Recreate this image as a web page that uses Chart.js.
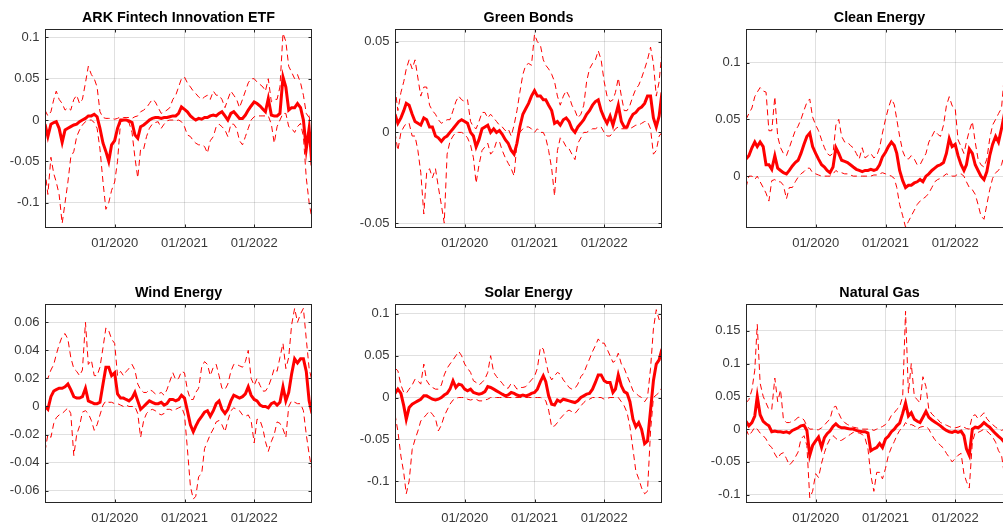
<!DOCTYPE html>
<html><head><meta charset="utf-8">
<script src="https://cdn.jsdelivr.net/npm/chart.js@4.4.1/dist/chart.umd.min.js"></script>
<style>
html,body{margin:0;padding:0;background:#fff;overflow:hidden;width:1003px;height:527px;position:relative;}
canvas{position:absolute;}
</style></head><body>
<canvas id="c0" width="320" height="258" style="left:0px;top:0px"></canvas>
<canvas id="c1" width="320" height="258" style="left:350px;top:0px"></canvas>
<canvas id="c2" width="320" height="258" style="left:701px;top:0px"></canvas>
<canvas id="c3" width="320" height="258" style="left:0px;top:275px"></canvas>
<canvas id="c4" width="320" height="258" style="left:350px;top:275px"></canvas>
<canvas id="c5" width="320" height="258" style="left:701px;top:275px"></canvas>
<script>
// ---- time axis (semi-monthly samples) ----
const dates = ("2019-01-01 2019-01-16 2019-02-01 2019-02-16 2019-03-01 2019-03-16 2019-04-01 2019-04-16 2019-05-01 2019-05-16 2019-06-01 2019-06-16 " +
"2019-07-01 2019-07-16 2019-08-01 2019-08-16 2019-09-01 2019-09-16 2019-10-01 2019-10-16 2019-11-01 2019-11-16 2019-12-01 2019-12-16 " +
"2020-01-01 2020-01-16 2020-02-01 2020-02-16 2020-03-01 2020-03-16 2020-04-01 2020-04-16 2020-05-01 2020-05-16 2020-06-01 2020-06-16 " +
"2020-07-01 2020-07-16 2020-08-01 2020-08-16 2020-09-01 2020-09-16 2020-10-01 2020-10-16 2020-11-01 2020-11-16 2020-12-01 2020-12-16 " +
"2021-01-01 2021-01-16 2021-02-01 2021-02-16 2021-03-01 2021-03-16 2021-04-01 2021-04-16 2021-05-01 2021-05-16 2021-06-01 2021-06-16 " +
"2021-07-01 2021-07-16 2021-08-01 2021-08-16 2021-09-01 2021-09-16 2021-10-01 2021-10-16 2021-11-01 2021-11-16 2021-12-01 2021-12-16 " +
"2022-01-01 2022-01-16 2022-02-01 2022-02-16 2022-03-01 2022-03-16 2022-04-01 2022-04-16 2022-05-01 2022-05-16 2022-06-01 2022-06-16 " +
"2022-07-01 2022-07-16 2022-08-01 2022-08-16 2022-09-01 2022-09-16 2022-10-01 2022-10-16 2022-10-31").split(" ");
const xStart = "2019-01-01", xEnd = "2022-10-31";
const xTicks = ["2020-01-01", "2021-01-01", "2022-01-01"];
const xTickLabels = ["01/2020", "01/2021", "01/2022"];

// ---- ARK Fintech Innovation ETF ----
const arkUpper = [0.012,0.005,0.01,0.025,0.035,0.025,0.02,0.012,0.015,0.012,
0.025,0.03,0.02,0.025,0.045,0.065,0.055,0.05,0.04,0.01,
0.003,0.002,0.002,0.002,0.001,0.002,0.004,0.003,0.003,0.003,
0.002,0.004,0.005,0.01,0.012,0.015,0.02,0.025,0.022,0.015,
0.008,0.01,0.012,0.015,0.025,0.03,0.04,0.05,0.052,0.045,
0.04,0.035,0.032,0.028,0.025,0.028,0.03,0.025,0.035,0.03,
0.03,0.025,0.015,0.025,0.035,0.03,0.025,0.015,0.025,0.035,
0.045,0.05,0.05,0.046,0.043,0.04,0.035,0.05,0.022,0.025,
0.025,0.04,0.105,0.095,0.065,0.058,0.05,0.055,0.045,0.03,
0.008,0.003,0.001];
const arkMid = [-0.005,-0.02,-0.005,-0.003,-0.002,-0.01,-0.027,-0.012,-0.01,-0.008,
-0.006,-0.005,-0.002,0.0,0.002,0.005,0.005,0.007,0.004,-0.01,
-0.028,-0.038,-0.05,-0.03,-0.025,-0.01,0.0,0.0,0.0,-0.001,
-0.003,-0.018,-0.022,-0.008,-0.006,-0.003,0.0,0.002,0.003,0.003,
0.002,0.003,0.003,0.004,0.005,0.005,0.008,0.016,0.013,0.01,
0.005,0.002,0.0,0.002,0.001,0.003,0.003,0.005,0.006,0.005,
0.008,0.01,0.005,0.0,0.008,0.01,0.006,0.002,0.002,0.006,
0.012,0.017,0.022,0.02,0.017,0.013,0.01,0.026,0.006,0.005,
0.005,0.008,0.052,0.04,0.012,0.015,0.015,0.02,0.015,0.0,
-0.035,-0.01,-0.055];
const arkLower = [-0.06,-0.09,-0.045,-0.065,-0.075,-0.09,-0.125,-0.1,-0.075,-0.045,
-0.038,-0.02,-0.012,-0.006,-0.002,0.0,0.0,-0.003,-0.01,-0.035,
-0.075,-0.108,-0.1,-0.085,-0.075,-0.05,-0.002,-0.001,-0.002,-0.003,
-0.015,-0.045,-0.07,-0.035,-0.035,-0.02,-0.01,-0.005,-0.003,-0.002,
-0.01,-0.005,-0.001,0.0,0.0,-0.001,0.0,-0.002,-0.008,-0.018,
-0.02,-0.025,-0.028,-0.03,-0.03,-0.032,-0.04,-0.025,-0.02,-0.008,
-0.005,-0.008,-0.012,-0.02,-0.005,-0.005,-0.01,-0.025,-0.03,-0.02,
-0.01,0.0,0.004,0.005,0.005,0.005,0.005,0.005,-0.005,-0.028,
-0.008,0.0,0.008,0.008,-0.008,-0.01,-0.015,-0.008,-0.004,-0.02,
-0.07,-0.1,-0.12];
const arkYTicks = [-0.1, -0.05, 0, 0.05, 0.1];
const arkYLabels = ["-0.1", "-0.05", "0", "0.05", "0.1"];
const arkYRange = [-0.1306, 0.1097];

// ---- Green Bonds ----
const gbUpper = [0.025,0.012,0.022,0.028,0.035,0.04,0.035,0.04,0.03,0.02,
0.025,0.025,0.015,0.012,0.01,0.007,0.005,0.006,0.007,0.007,
0.012,0.017,0.02,0.018,0.017,0.018,0.006,0.003,0.002,0.006,
0.011,0.011,0.008,0.01,0.008,0.006,0.004,0.003,0.001,0.002,
-0.002,0.004,0.012,0.022,0.032,0.037,0.038,0.037,0.054,0.05,
0.048,0.04,0.037,0.035,0.032,0.028,0.02,0.015,0.02,0.023,
0.02,0.015,0.012,0.008,0.01,0.015,0.028,0.035,0.038,0.04,
0.045,0.04,0.028,0.02,0.017,0.018,0.022,0.03,0.02,0.012,
0.012,0.015,0.02,0.024,0.026,0.03,0.035,0.04,0.047,0.038,
0.02,0.028,0.045];
const gbMid = [0.01,0.005,0.008,0.012,0.016,0.015,0.01,0.006,0.005,0.004,
0.008,0.007,0.003,0.003,-0.002,-0.003,-0.005,-0.003,-0.002,0.0,
0.002,0.004,0.006,0.007,0.006,0.005,0.0,-0.002,-0.008,-0.004,
0.002,0.003,0.004,0.0,0.002,0.0,0.001,-0.001,-0.004,-0.006,
-0.01,-0.012,-0.006,0.003,0.01,0.013,0.016,0.02,0.023,0.02,
0.02,0.018,0.018,0.015,0.012,0.005,0.006,0.004,0.007,0.008,
0.006,0.002,0.0,0.003,0.005,0.007,0.01,0.012,0.015,0.017,
0.018,0.012,0.008,0.005,0.009,0.004,0.009,0.015,0.006,0.003,
0.003,0.007,0.01,0.011,0.013,0.014,0.016,0.02,0.02,0.008,
0.003,0.009,0.022];
const gbLower = [0.0,-0.01,0.0,0.003,0.005,0.005,-0.002,-0.002,-0.01,-0.022,
-0.045,-0.022,-0.02,-0.025,-0.02,-0.03,-0.04,-0.05,-0.012,-0.005,
-0.002,0.0,0.0,0.0,-0.001,-0.003,-0.007,-0.014,-0.028,-0.018,
-0.01,-0.008,-0.006,-0.012,-0.01,-0.005,-0.005,-0.01,-0.014,-0.017,
-0.02,-0.024,-0.006,0.0,0.002,0.003,0.003,0.002,0.0,0.002,
0.0,0.0,-0.003,-0.01,-0.02,-0.035,-0.01,-0.003,-0.005,-0.008,
-0.009,-0.012,-0.015,-0.006,-0.003,0.0,0.0,0.001,0.002,0.002,
0.003,0.003,0.0,-0.002,-0.002,0.0,0.002,0.003,0.002,0.002,
0.002,0.002,0.003,0.004,0.004,0.005,0.006,0.006,0.002,-0.012,
-0.01,-0.002,0.0];
const gbYTicks = [-0.05, 0, 0.05];
const gbYLabels = ["-0.05", "0", "0.05"];
const gbYRange = [-0.0527, 0.0568];

// ---- Clean Energy ----
const ceUpper = [0.05,0.055,0.06,0.07,0.074,0.078,0.075,0.074,0.04,0.04,
0.07,0.035,0.025,0.02,0.018,0.025,0.033,0.04,0.044,0.05,
0.058,0.065,0.068,0.052,0.045,0.04,0.032,0.025,0.02,0.018,
0.02,0.045,0.05,0.035,0.03,0.03,0.027,0.025,0.02,0.015,
0.025,0.016,0.018,0.02,0.016,0.018,0.025,0.038,0.05,0.06,
0.068,0.063,0.05,0.035,0.022,0.016,0.015,0.018,0.015,0.01,
0.01,0.015,0.02,0.03,0.035,0.04,0.037,0.035,0.045,0.062,
0.07,0.062,0.06,0.032,0.026,0.02,0.03,0.04,0.048,0.03,
0.015,0.01,0.008,0.015,0.033,0.045,0.05,0.055,0.06,0.09,
0.11,0.125,0.12];
const ceMid = [0.015,0.018,0.025,0.03,0.026,0.03,0.026,0.01,0.01,0.006,
0.018,0.007,0.005,0.003,0.002,0.005,0.009,0.012,0.014,0.02,
0.028,0.035,0.038,0.026,0.02,0.015,0.01,0.008,0.005,0.003,
0.008,0.025,0.02,0.014,0.013,0.012,0.01,0.008,0.006,0.005,
0.004,0.005,0.005,0.006,0.005,0.006,0.01,0.017,0.021,0.026,
0.03,0.027,0.02,0.005,-0.004,-0.01,-0.008,-0.008,-0.006,-0.005,
-0.003,-0.005,0.0,0.002,0.005,0.007,0.009,0.01,0.012,0.02,
0.033,0.026,0.028,0.018,0.01,0.005,0.01,0.024,0.02,0.01,
0.005,0.0,-0.003,0.004,0.018,0.028,0.035,0.03,0.042,0.055,
0.06,0.065,0.065];
const ceLower = [-0.01,0.0,0.0,-0.003,0.0,-0.005,-0.01,-0.015,-0.022,-0.004,
-0.003,-0.005,-0.005,-0.008,-0.02,-0.01,-0.01,-0.005,-0.001,0.002,
0.004,0.007,0.007,0.003,0.002,0.001,0.0,0.0,0.0,0.0,
0.002,0.005,0.003,0.003,0.002,0.002,0.001,0.0,0.0,0.0,
0.0,0.0,0.0,0.0,0.001,0.001,0.002,0.003,0.002,0.001,
0.0,-0.002,-0.01,-0.025,-0.035,-0.045,-0.04,-0.035,-0.03,-0.025,
-0.022,-0.02,-0.018,-0.015,-0.01,-0.005,-0.003,-0.002,0.0,0.002,
0.001,0.0,0.0,0.002,0.002,0.0,-0.005,-0.01,-0.012,-0.016,
-0.025,-0.035,-0.038,-0.025,-0.012,-0.002,0.003,0.005,0.01,0.02,
0.025,0.025,0.025];
const ceYTicks = [0, 0.05, 0.1];
const ceYLabels = ["0", "0.05", "0.1"];
const ceYRange = [-0.0457, 0.1293];

// ---- Wind Energy ----
const weUpper = [0.02,0.02,0.026,0.03,0.037,0.044,0.05,0.052,0.048,0.035,
0.027,0.025,0.022,0.026,0.06,0.03,0.033,0.022,0.022,0.028,
0.042,0.056,0.054,0.048,0.045,0.022,0.025,0.022,0.025,0.027,
0.03,0.026,0.016,0.012,0.01,0.01,0.012,0.011,0.009,0.009,
0.01,0.008,0.012,0.018,0.024,0.019,0.02,0.025,0.024,0.012,
0.005,0.005,0.01,0.013,0.028,0.032,0.03,0.022,0.028,0.03,
0.022,0.013,0.012,0.016,0.025,0.03,0.03,0.029,0.028,0.032,
0.04,0.02,0.015,0.02,0.015,0.011,0.011,0.014,0.02,0.027,
0.025,0.035,0.045,0.027,0.035,0.058,0.07,0.06,0.066,0.07,
0.048,0.027,0.018];
const weMid = [0.0,-0.002,0.007,0.011,0.012,0.013,0.013,0.014,0.016,0.012,
0.007,0.006,0.006,0.007,0.013,0.004,0.003,0.002,0.002,0.003,
0.016,0.028,0.028,0.022,0.024,0.009,0.006,0.006,0.005,0.004,
0.006,0.01,0.004,-0.002,0.0,0.002,0.004,0.003,0.002,0.002,
0.003,0.001,0.002,0.005,0.005,0.004,0.005,0.008,0.006,-0.003,
-0.013,-0.018,-0.014,-0.01,-0.007,-0.004,-0.003,-0.007,-0.003,0.002,
0.004,-0.002,-0.005,-0.002,0.004,0.008,0.007,0.006,0.007,0.009,
0.014,0.008,0.005,0.004,0.001,0.0,0.0,-0.001,0.002,0.003,
0.001,0.003,0.014,0.004,0.01,0.023,0.034,0.031,0.034,0.034,
0.025,0.004,-0.005];
const weLower = [-0.032,-0.02,-0.022,-0.012,-0.008,-0.006,-0.005,-0.003,-0.001,-0.005,
-0.035,-0.02,-0.014,-0.004,-0.003,-0.005,-0.01,-0.017,-0.013,-0.006,
0.001,0.004,0.003,0.003,0.002,0.002,0.001,0.0,0.001,0.0,
0.0,0.0,-0.005,-0.022,-0.01,-0.005,-0.003,-0.002,-0.003,-0.005,
-0.006,-0.005,-0.002,-0.002,-0.003,-0.002,-0.001,0.0,-0.006,-0.03,
-0.057,-0.066,-0.064,-0.05,-0.048,-0.03,-0.025,-0.02,-0.016,-0.011,
-0.01,-0.013,-0.018,-0.01,-0.003,-0.001,-0.002,-0.003,-0.006,-0.007,
-0.006,-0.01,-0.026,-0.009,-0.01,-0.016,-0.025,-0.032,-0.025,-0.02,
-0.011,-0.012,-0.016,-0.022,0.0,0.004,0.003,0.002,0.002,-0.003,
-0.02,-0.034,-0.046];
const weYTicks = [-0.06, -0.04, -0.02, 0, 0.02, 0.04, 0.06];
const weYLabels = ["-0.06", "-0.04", "-0.02", "0", "0.02", "0.04", "0.06"];
const weYRange = [-0.0688, 0.0728];

// ---- Solar Energy ----
const seUpper = [0.035,0.032,0.015,0.006,0.005,0.01,0.015,0.022,0.02,0.016,
0.04,0.02,0.015,0.012,0.01,0.01,0.015,0.027,0.035,0.04,
0.045,0.05,0.055,0.05,0.04,0.035,0.03,0.02,0.018,0.015,
0.018,0.022,0.03,0.05,0.03,0.025,0.021,0.017,0.012,0.011,
0.017,0.015,0.01,0.012,0.012,0.013,0.017,0.021,0.025,0.035,
0.06,0.058,0.044,0.028,0.021,0.026,0.03,0.028,0.021,0.017,
0.012,0.01,0.011,0.016,0.025,0.029,0.038,0.046,0.055,0.062,
0.07,0.065,0.065,0.058,0.05,0.042,0.044,0.053,0.04,0.035,
0.026,0.018,0.008,0.005,0.002,0.0,-0.005,0.0,0.035,0.082,
0.105,0.093,0.097];
const seMid = [0.005,0.01,0.005,-0.01,-0.026,-0.012,-0.008,-0.006,-0.004,-0.002,
0.002,0.002,0.0,-0.002,-0.003,-0.002,0.0,0.003,0.005,0.01,
0.02,0.012,0.016,0.015,0.01,0.008,0.01,0.006,0.005,0.004,
0.005,0.007,0.013,0.012,0.01,0.008,0.006,0.004,0.002,0.003,
0.006,0.005,0.003,0.002,0.003,0.002,0.003,0.005,0.006,0.01,
0.019,0.026,0.019,0.002,-0.008,-0.009,-0.003,-0.005,-0.002,-0.003,
-0.004,-0.005,-0.006,-0.004,0.0,0.002,0.004,0.005,0.01,0.018,
0.027,0.027,0.02,0.018,0.018,0.006,0.01,0.027,0.014,0.007,
0.005,-0.005,-0.026,-0.035,-0.03,-0.038,-0.055,-0.052,-0.015,0.02,
0.04,0.045,0.058];
const seLower = [-0.02,-0.04,-0.07,-0.09,-0.115,-0.1,-0.062,-0.05,-0.04,-0.028,
-0.024,-0.02,-0.016,-0.02,-0.025,-0.04,-0.033,-0.022,-0.015,-0.008,
-0.003,-0.001,0.0,0.0,0.0,-0.002,-0.003,-0.002,-0.002,-0.004,
-0.004,-0.003,-0.002,0.0,0.0,0.0,0.0,0.0,0.0,0.0,
0.0,0.0,0.0,0.0,0.0,0.0,0.0,0.0,0.0,0.0,
0.0,-0.001,-0.004,-0.015,-0.035,-0.034,-0.03,-0.025,-0.021,-0.017,
-0.015,-0.017,-0.019,-0.015,-0.01,-0.006,-0.003,-0.002,0.0,0.0,
0.0,0.0,-0.002,-0.001,0.0,0.0,0.0,0.0,-0.005,-0.01,
-0.018,-0.035,-0.062,-0.088,-0.097,-0.108,-0.115,-0.112,-0.04,0.0,
0.003,0.006,0.012];
const seYTicks = [-0.1, -0.05, 0, 0.05, 0.1];
const seYLabels = ["-0.1", "-0.05", "0", "0.05", "0.1"];
const seYRange = [-0.126, 0.1113];

// ---- Natural Gas ----
const ngUpper = [0.04,0.045,0.06,0.09,0.16,0.07,0.05,0.04,0.03,0.03,
0.078,0.042,0.06,0.015,0.01,0.01,0.012,0.014,0.018,0.018,
0.014,0.005,0.0,0.0,-0.001,-0.001,0.002,0.006,0.011,0.015,
0.033,0.035,0.024,0.015,0.01,0.007,0.005,0.003,0.002,0.001,
0.0,0.0,0.0,0.0,-0.002,0.0,0.002,0.004,0.007,0.012,
0.021,0.025,0.03,0.034,0.05,0.18,0.055,0.1,0.05,0.045,
0.04,0.08,0.065,0.03,0.023,0.019,0.015,0.01,0.008,0.006,
0.004,0.002,0.002,0.003,0.005,0.003,0.001,0.0,0.02,0.022,
0.016,0.02,0.025,0.016,0.011,0.007,0.003,0.0,-0.002,0.0,
0.0,0.0,0.0];
const ngMid = [0.012,0.005,0.01,0.02,0.05,0.022,0.012,0.008,0.005,-0.004,
-0.003,-0.004,-0.004,-0.005,-0.004,-0.006,-0.002,0.0,0.002,0.005,
0.006,-0.002,-0.04,-0.025,-0.018,-0.012,-0.028,-0.013,-0.007,-0.003,
0.004,0.008,0.004,0.002,0.002,0.001,0.0,0.0,-0.002,-0.003,
-0.004,-0.004,-0.006,-0.033,-0.03,-0.028,-0.022,-0.028,-0.015,-0.011,
-0.004,0.0,0.005,0.009,0.024,0.04,0.02,0.025,0.015,0.012,
0.01,0.018,0.027,0.018,0.014,0.011,0.008,0.005,0.001,-0.002,
-0.004,-0.005,-0.003,-0.005,-0.003,-0.01,-0.03,-0.04,0.0,0.003,
0.002,0.005,0.01,0.006,0.003,-0.002,-0.007,-0.011,-0.015,-0.02,
-0.022,-0.02,-0.02];
const ngLower = [0.0,-0.01,-0.004,0.003,0.0,-0.006,-0.01,-0.015,-0.024,-0.028,
-0.038,-0.045,-0.038,-0.036,-0.045,-0.055,-0.05,-0.043,-0.035,-0.015,
-0.01,-0.025,-0.105,-0.095,-0.068,-0.074,-0.052,-0.036,-0.024,-0.015,
-0.01,-0.014,-0.018,-0.017,-0.014,-0.011,-0.008,-0.005,-0.005,-0.006,
-0.008,-0.014,-0.03,-0.07,-0.095,-0.066,-0.066,-0.076,-0.06,-0.04,
-0.028,-0.019,-0.01,-0.002,0.002,0.01,0.006,0.007,0.005,0.0,
0.003,0.004,0.004,0.0,-0.009,-0.016,-0.02,-0.025,-0.029,-0.037,
-0.043,-0.05,-0.045,-0.04,-0.037,-0.068,-0.08,-0.09,-0.02,-0.005,
-0.005,-0.003,0.0,-0.003,-0.007,-0.012,-0.02,-0.033,-0.04,-0.07,
-0.075,-0.07,-0.07];
const ngYTicks = [-0.1, -0.05, 0, 0.05, 0.1, 0.15];
const ngYLabels = ["-0.1", "-0.05", "0", "0.05", "0.1", "0.15"];
const ngYRange = [-0.1128, 0.1905];

// ---- build charts ----
const FONT = "'Liberation Sans', Arial, Helvetica, sans-serif";
const RED = "#ff0000";
const GRID = "rgba(38,38,38,0.14)";
const AXIS = "#262626";
const LABEL = "#383838";

const panels = [
  {id: "c0", title: "ARK Fintech Innovation ETF", up: arkUpper, mid: arkMid, lo: arkLower, yt: arkYTicks, yl: arkYLabels, yr: arkYRange},
  {id: "c1", title: "Green Bonds", up: gbUpper, mid: gbMid, lo: gbLower, yt: gbYTicks, yl: gbYLabels, yr: gbYRange},
  {id: "c2", title: "Clean Energy", up: ceUpper, mid: ceMid, lo: ceLower, yt: ceYTicks, yl: ceYLabels, yr: ceYRange},
  {id: "c3", title: "Wind Energy", up: weUpper, mid: weMid, lo: weLower, yt: weYTicks, yl: weYLabels, yr: weYRange},
  {id: "c4", title: "Solar Energy", up: seUpper, mid: seMid, lo: seLower, yt: seYTicks, yl: seYLabels, yr: seYRange},
  {id: "c5", title: "Natural Gas", up: ngUpper, mid: ngMid, lo: ngLower, yt: ngYTicks, yl: ngYLabels, yr: ngYRange}
];

const boxPlugin = {
  id: "matlabBox",
  afterDraw(chart) {
    const {ctx, chartArea: a, scales} = chart;
    ctx.save();
    ctx.strokeStyle = AXIS;
    ctx.lineWidth = 1;
    const L = Math.round(a.left) + 0.5, R = Math.round(a.right) - 0.5;
    const T = Math.round(a.top) + 0.5, B = Math.round(a.bottom) - 0.5;
    ctx.strokeRect(L, T, R - L, B - T);
    const tl = 3;
    ctx.beginPath();
    scales.x.ticks.forEach(t => {
      const px = Math.round(scales.x.getPixelForValue(t.value)) + 0.5;
      ctx.moveTo(px, B); ctx.lineTo(px, B - tl);
      ctx.moveTo(px, T); ctx.lineTo(px, T + tl);
    });
    scales.y.ticks.forEach(t => {
      const py = Math.round(scales.y.getPixelForValue(t.value)) + 0.5;
      ctx.moveTo(L, py); ctx.lineTo(L + tl, py);
      ctx.moveTo(R, py); ctx.lineTo(R - tl, py);
    });
    ctx.stroke();
    ctx.restore();
  }
};

function series(vals) {
  return vals.map((v, i) => ({x: Date.parse(dates[i]), y: v}));
}

panels.forEach(p => {
  new Chart(document.getElementById(p.id), {
    type: "line",
    data: {
      datasets: [
        {data: series(p.mid), borderColor: RED, borderWidth: 3, pointRadius: 0, tension: 0, fill: false},
        {data: series(p.up), borderColor: RED, borderWidth: 1, borderDash: [6, 4], pointRadius: 0, tension: 0, fill: false},
        {data: series(p.lo), borderColor: RED, borderWidth: 1, borderDash: [6, 4], pointRadius: 0, tension: 0, fill: false}
      ]
    },
    options: {
      responsive: false,
      animation: false,
      devicePixelRatio: 1,
      events: [],
      layout: {padding: {left: 0, right: 8, top: 0, bottom: 0}},
      plugins: {
        legend: {display: false},
        tooltip: {enabled: false},
        title: {
          display: true, text: p.title, fullSize: false,
          color: "#000", font: {family: FONT, size: 14.3, weight: "bold"},
          padding: {top: 9.2, bottom: 3}
        }
      },
      scales: {
        x: {
          type: "linear",
          min: Date.parse(xStart), max: Date.parse(xEnd),
          afterBuildTicks: s => { s.ticks = xTicks.map(d => ({value: Date.parse(d)})); },
          afterFit: s => { s.height = 30; },
          ticks: {
            callback: (v, i) => xTickLabels[i],
            color: LABEL, font: {family: FONT, size: 13}, padding: 8,
            maxRotation: 0, autoSkip: false
          },
          grid: {color: GRID, drawTicks: false, lineWidth: 1},
          border: {display: false}
        },
        y: {
          type: "linear",
          min: p.yr[0], max: p.yr[1],
          afterBuildTicks: s => { s.ticks = p.yt.map(v => ({value: v})); },
          afterFit: s => { s.width = 45; },
          ticks: {
            callback: (v, i) => p.yl[i],
            color: LABEL, font: {family: FONT, size: 13}, padding: 5.5,
            autoSkip: false
          },
          grid: {color: GRID, drawTicks: false, lineWidth: 1},
          border: {display: false}
        }
      }
    },
    plugins: [boxPlugin]
  });
});
</script>
</body></html>
